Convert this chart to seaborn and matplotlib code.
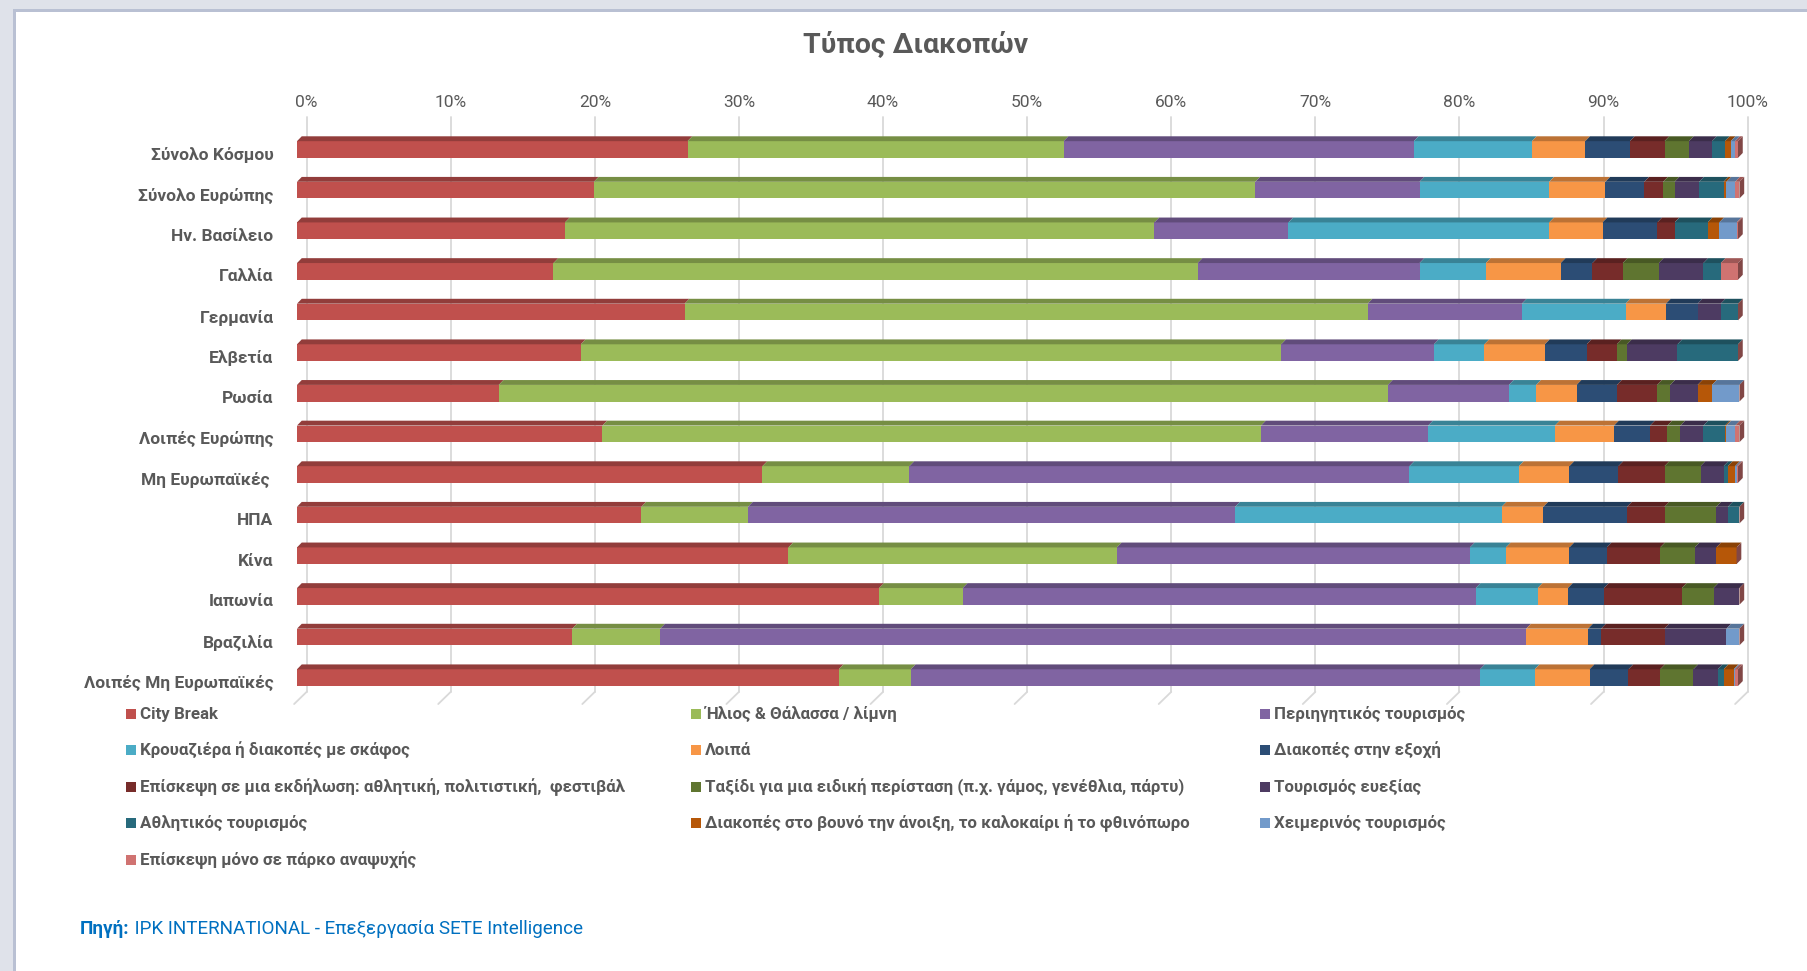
import matplotlib

matplotlib.use("Agg")

import matplotlib.pyplot as plt
import matplotlib.transforms as mtransforms
import numpy as np
import pandas as pd
import seaborn as sns
from matplotlib.colors import to_rgb
from matplotlib.patches import Polygon, Rectangle

# ---------------------------------------------------------------------------
# Data (share of trips, %)
# ---------------------------------------------------------------------------

regions = [
    "Σύνολο Κόσμου", "Σύνολο Ευρώπης", "Ην. Βασίλειο", "Γαλλία", "Γερμανία",
    "Ελβετία", "Ρωσία", "Λοιπές Ευρώπης", "Μη Ευρωπαϊκές ", "ΗΠΑ", "Κίνα",
    "Ιαπωνία", "Βραζιλία", "Λοιπές Μη Ευρωπαϊκές",
]

city_break = [27.1, 20.6, 18.6, 17.8, 26.9, 19.7, 14.0, 21.2, 32.3, 23.9, 34.1, 40.4, 19.1, 37.6]
sun_sea = [26.1, 45.9, 40.9, 44.7, 47.4, 48.6, 61.7, 45.7, 10.2, 7.4, 22.8, 5.8, 6.1, 5.0]
sightseeing = [24.3, 11.4, 9.3, 15.4, 10.7, 10.6, 8.4, 11.6, 34.7, 33.8, 24.5, 35.6, 60.1, 39.5]
cruise = [8.2, 9.0, 18.1, 4.6, 7.2, 3.5, 1.9, 8.8, 7.6, 18.5, 2.5, 4.3, 0.0, 3.8]
other = [3.7, 3.9, 3.7, 5.2, 2.8, 4.2, 2.8, 4.1, 3.5, 2.9, 4.4, 2.1, 4.3, 3.8]
countryside = [3.1, 2.7, 3.8, 2.2, 2.2, 2.9, 2.8, 2.5, 3.4, 5.8, 2.6, 2.5, 0.9, 2.7]
event = [2.4, 1.3, 1.2, 2.1, 0.0, 2.1, 2.8, 1.2, 3.2, 2.6, 3.7, 5.4, 4.4, 2.2]
special_occasion = [1.7, 0.8, 0.0, 2.5, 0.0, 0.7, 0.9, 0.9, 2.5, 3.6, 2.4, 2.2, 0.0, 2.3]
wellness = [1.6, 1.7, 0.0, 3.1, 1.6, 3.5, 1.9, 1.6, 1.6, 0.8, 1.5, 1.8, 4.3, 1.7]
sports = [0.9, 1.7, 2.3, 1.2, 1.2, 4.2, 0.0, 1.5, 0.3, 0.8, 0.0, 0.0, 0.0, 0.4]
mountain = [0.4, 0.2, 0.8, 0.0, 0.0, 0.0, 1.0, 0.1, 0.5, 0.0, 1.4, 0.0, 0.0, 0.7]
winter = [0.3, 0.6, 1.2, 0.0, 0.0, 0.0, 1.9, 0.6, 0.1, 0.0, 0.0, 0.0, 0.9, 0.1]
theme_park = [0.2, 0.3, 0.1, 1.2, 0.0, 0.0, 0.0, 0.3, 0.1, 0.0, 0.0, 0.0, 0.0, 0.2]

categories = [
    "City Break",
    "Ήλιος & Θάλασσα / λίμνη",
    "Περιηγητικός τουρισμός",
    "Κρουαζιέρα ή διακοπές με σκάφος",
    "Λοιπά",
    "Διακοπές στην εξοχή",
    "Επίσκεψη σε μια εκδήλωση: αθλητική, πολιτιστική,  φεστιβάλ",
    "Ταξίδι για μια ειδική περίσταση (π.χ. γάμος, γενέθλια, πάρτυ)",
    "Τουρισμός ευεξίας",
    "Αθλητικός τουρισμός",
    "Διακοπές στο βουνό την άνοιξη, το καλοκαίρι ή το φθινόπωρο",
    "Χειμερινός τουρισμός",
    "Επίσκεψη μόνο σε πάρκο αναψυχής",
]

series = [city_break, sun_sea, sightseeing, cruise, other, countryside, event,
          special_occasion, wellness, sports, mountain, winter, theme_park]

tick_values = list(range(0, 101, 10))

# ---------------------------------------------------------------------------
# Style
# ---------------------------------------------------------------------------

_COLORS = ["#C0504D", "#9BBB59", "#8064A2", "#4BACC6", "#F79646", "#2C4D75",
           "#772C2A", "#5F7530", "#4D3B62", "#276A7C", "#B65708", "#729ACA",
           "#D07371"]
_TEXT = "#595959"
_GRID = "#d9d9d9"

BAR_H = 0.41     # front face height (rows)
DX = 0.33        # depth shift of top face (%)
DY = 0.12        # depth height of top face (rows)
GX = 0.67        # back wall offset of gridlines (%)


def _darker(c, f=0.76):
    r, g, b = to_rgb(c)
    return (r * f, g * f, b * f)


sns.set_theme(style="white")
plt.rcParams["font.family"] = ["Roboto", "DejaVu Sans"]

W, H = 1807, 971
fig = plt.figure(figsize=(W / 100, H / 100), dpi=100)
fig.patch.set_facecolor("white")

x0, x1 = 297, 297 + 100.7 * 14.41
y_top, y_bot = 117, 702
ax = fig.add_axes([x0 / W, 1 - y_bot / H, (x1 - x0) / W, (y_bot - y_top) / H])

# ---------------------------------------------------------------------------
# Stacked bars (cumulative totals drawn back to front)
# ---------------------------------------------------------------------------

values = np.array(series, dtype=float)
cum = values.cumsum(axis=0)

for k in reversed(range(len(series))):
    sub = pd.DataFrame({"region": regions, "end": cum[k]})
    sns.barplot(
        data=sub, x="end", y="region", orient="h", color=_COLORS[k],
        saturation=1, width=BAR_H, edgecolor="none", linewidth=0, ax=ax,
        zorder=2,
    )

# top faces of the 3D bars
for i in range(len(regions)):
    yt = i - BAR_H / 2
    yb = i + BAR_H / 2
    for k in range(len(series)):
        v = values[k, i]
        if v <= 0:
            continue
        right = cum[k, i]
        left = right - v
        ax.add_patch(Polygon(
            [(left, yt), (left + DX, yt - DY), (right + DX, yt - DY), (right, yt)],
            closed=True, facecolor=_darker(_COLORS[k]), edgecolor="none", zorder=2.5,
        ))
    end = cum[-1, i]
    ax.add_patch(Polygon(
        [(end, yt), (end + DX, yt - DY), (end + DX, yb - DY), (end, yb)],
        closed=True, facecolor=_darker(_COLORS[-1], 0.62), edgecolor="none",
        zorder=2.5, clip_on=False,
    ))

# gridlines on the back wall plus floor diagonals
n = len(regions)
for t in tick_values:
    ax.plot([t + GX, t + GX], [-0.8, n - 0.65], color=_GRID, lw=1.3, zorder=0.5,
            clip_on=False)
    ax.plot([t + GX, t - 0.2], [n - 0.65, n - 0.35], color=_GRID, lw=1.3,
            zorder=0.5, clip_on=False)

ax.set_xlim(0, 100.7)
ax.set_ylim(n - 0.4, -0.8)
ax.set_xticks([t + GX for t in tick_values])
ax.set_xticklabels([f"{t}%" for t in tick_values])
ax.xaxis.tick_top()
ax.tick_params(axis="x", length=0, pad=5, labelsize=12.5, labelcolor=_TEXT)
ax.tick_params(axis="y", length=0, pad=17, labelsize=12.5, labelcolor=_TEXT)
shift = mtransforms.ScaledTranslation(0, -4 / 100, fig.dpi_scale_trans)
for lab in ax.get_yticklabels():
    lab.set_fontweight("bold")
    lab.set_transform(lab.get_transform() + shift)
ax.set_xlabel("")
ax.set_ylabel("")
for s in ax.spines.values():
    s.set_visible(False)
ax.grid(False)
ax.set_facecolor("none")

# ---------------------------------------------------------------------------
# Title, legend, source
# ---------------------------------------------------------------------------

fig.text(916 / W, 1 - 45 / H, "Τύπος Διακοπών", ha="center", va="center",
         fontsize=20.5, fontweight="bold", color=_TEXT)

col_x = [126, 691, 1260]
row_y = [714, 750, 787, 823, 860]
for k, label in enumerate(categories):
    cx = col_x[k % 3]
    cy = row_y[k // 3]
    fig.patches.append(Rectangle(
        (cx / W, 1 - (cy + 5) / H), 10 / W, 10 / H, transform=fig.transFigure,
        facecolor=_COLORS[k], edgecolor="none",
    ))
    fig.text((cx + 14) / W, 1 - cy / H, label, ha="left", va="center",
             fontsize=12.2, fontweight="bold", color=_TEXT)

src1 = fig.text(80 / W, 1 - 929 / H, "Πηγή:", ha="left", va="center",
                fontsize=13.6, fontweight="bold", color="#0070C0")
renderer = fig.canvas.get_renderer()
bb = src1.get_window_extent(renderer=renderer)
fig.text(bb.x1 / W, 1 - 929 / H, " IPK INTERNATIONAL - Επεξεργασία SETE Intelligence",
         ha="left", va="center", fontsize=13.6, color="#0070C0")

# window frame (top and left bevel)
fig.patches.append(Rectangle((0, 1 - 12 / H), 1, 12 / H, transform=fig.transFigure,
                             facecolor="#dfe2ea", edgecolor="none"))
fig.patches.append(Rectangle((0, 1 - 12 / H), 1, 3 / H, transform=fig.transFigure,
                             facecolor="#b9c0d3", edgecolor="none"))
fig.patches.append(Rectangle((0, 0), 16 / W, 1, transform=fig.transFigure,
                             facecolor="#dfe2ea", edgecolor="none"))
fig.patches.append(Rectangle((13 / W, 0), 3 / W, 1 - 9 / H, transform=fig.transFigure,
                             facecolor="#b9c0d3", edgecolor="none"))

fig.savefig("out.png", dpi=100)
